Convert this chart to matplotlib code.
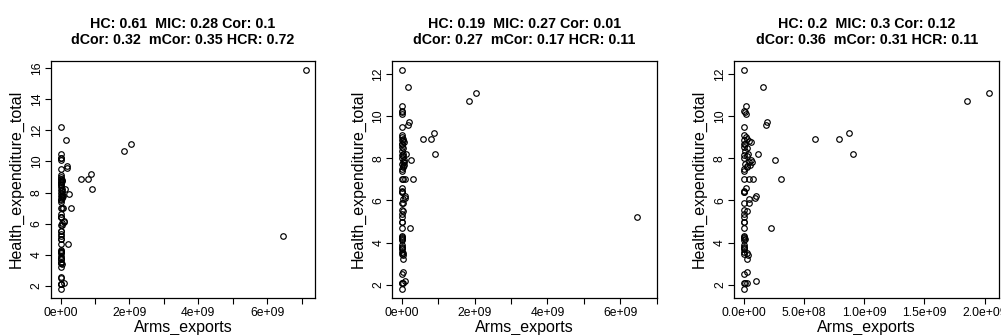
#!/usr/bin/env python3
"""
Health expenditure vs arms exports - three scatter panels
(full data, one outlier removed, two outliers removed)
"""

import numpy as np
import matplotlib
matplotlib.use('Agg')
import matplotlib.pyplot as plt

plt.rcParams['font.family'] = ['Liberation Sans', 'DejaVu Sans']

# Core points shared by all panels (arms exports in units of 1e8)
arms_core = [0.00, 1.61, 0.14, 0.00, 0.08, 0.14, 1.83, 1.94, 0.00, 0.00,
             0.14, 0.22, 0.44, 0.56, 0.11, 0.00, 0.22, 0.08, 0.00, 0.33,
             1.17, 0.28, 0.00, 2.56, 0.39, 0.56, 0.67, 0.50, 0.22, 0.00,
             0.00, 0.39, 0.78, 3.06, 0.17, 0.00, 0.05, 1.00, 0.89, 0.39,
             0.39, 0.00, 0.00, 0.22, 0.00, 0.03, 0.00, 0.05, 0.00, 2.22,
             0.00, 0.05, 0.11, 0.00, 0.00, 0.05, 0.00, 0.00, 0.22, 0.33,
             0.22, 0.22, 0.00, 0.11, 0.22, 0.97, 0.00, 5.94, 7.94, 8.75,
             9.10, 18.55, 20.40, 0.05, 0.00, 0.10, 0.30, 0.05, 0.00, 0.00,
             0.03, 0.00, 0.03]
health_core = [12.2, 11.4, 10.5, 10.25, 10.2, 10.1, 9.6, 9.7, 9.5, 9.1,
               9.0, 8.9, 8.8, 8.75, 8.7, 8.55, 8.5, 8.35, 8.15, 8.2,
               8.2, 8.1, 8.0, 7.9, 7.8, 7.9, 7.8, 7.7, 7.6, 7.5,
               7.0, 7.0, 7.0, 7.0, 6.6, 6.4, 6.4, 6.2, 6.1, 6.05,
               5.9, 5.9, 5.55, 5.5, 5.35, 5.2, 5.0, 5.0, 4.7, 4.7,
               4.3, 4.25, 4.15, 4.1, 3.9, 3.8, 3.7, 3.55, 3.5, 3.4,
               3.2, 2.6, 2.5, 2.1, 2.1, 2.2, 1.8, 8.9, 8.9, 9.2,
               8.2, 10.7, 11.1, 8.85, 8.7, 7.75, 7.65, 7.4, 6.45, 4.2,
               3.75, 3.45, 2.1]

# Outliers (arms exports in units of 1e8)
outlier_mid = (64.6, 5.2)
outlier_top = (71.1, 15.9)

titles = [
    "HC: 0.61  MIC: 0.28 Cor: 0.1\ndCor: 0.32  mCor: 0.35 HCR: 0.72",
    "HC: 0.19  MIC: 0.27 Cor: 0.01\ndCor: 0.27  mCor: 0.17 HCR: 0.11",
    "HC: 0.2  MIC: 0.3 Cor: 0.12\ndCor: 0.36  mCor: 0.31 HCR: 0.11",
]

xticks_big = [0, 1e9, 2e9, 3e9, 4e9, 5e9, 6e9, 7e9]
xticklabels_big = ['0e+00', '', '2e+09', '', '4e+09', '', '6e+09', '']
xticks_small = [0, 5e8, 1e9, 1.5e9, 2e9]
xticklabels_small = ['0.0e+00', '5.0e+08', '1.0e+09', '1.5e+09', '2.0e+09']
yticks_16 = [2, 4, 6, 8, 10, 12, 14, 16]
yticks_12 = [2, 4, 6, 8, 10, 12]


def r_range(vals):
    """R style axis range: data range padded by 4% each side"""
    lo, hi = min(vals), max(vals)
    pad = 0.04 * (hi - lo)
    return lo - pad, hi + pad


def draw_panel(fig, rect, x, y, title, xticks, xticklabels, yticks):
    ax = fig.add_axes(rect)
    ax.plot(x, y, 'o', markersize=4, markerfacecolor='none',
            markeredgecolor='black', markeredgewidth=0.85, linestyle='none')
    ax.set_xlim(*r_range(x))
    ax.set_ylim(*r_range(y))

    ax.set_xticks(xticks)
    ax.set_xticklabels(xticklabels)
    ax.set_yticks(yticks)
    ax.set_yticklabels([str(v) for v in yticks], rotation=90, va='center')

    # R-like outward ticks
    ax.tick_params(direction='out', length=4.3, width=0.8, labelsize=8.7,
                   colors='black')
    ax.tick_params(axis='x', pad=2.5)
    ax.tick_params(axis='y', pad=1.5)
    for sp in ax.spines.values():
        sp.set_linewidth(0.9)

    ax.set_xlabel('Arms_exports', fontsize=11.5, labelpad=0.5)
    ax.set_ylabel('Health_expenditure_total', fontsize=11.5, labelpad=5)
    ax.set_title(title, fontsize=10.3, fontweight='bold', pad=12,
                 linespacing=1.2)
    return ax


def main():
    fig = plt.figure(figsize=(10.01, 3.35), dpi=100)

    x3 = [v * 1e8 for v in arms_core]
    y3 = list(health_core)
    x2 = x3 + [outlier_mid[0] * 1e8]
    y2 = y3 + [outlier_mid[1]]
    x1 = x2 + [outlier_top[0] * 1e8]
    y1 = y2 + [outlier_top[1]]

    bottom = 0.1113
    height = 0.7066
    draw_panel(fig, [0.0507, bottom, 0.2643, height], x1, y1, titles[0],
               xticks_big, xticklabels_big, yticks_16)
    draw_panel(fig, [0.3919, bottom, 0.2641, height], x2, y2, titles[1],
               xticks_big, xticklabels_big, yticks_12)
    draw_panel(fig, [0.7333, bottom, 0.2650, height], x3, y3, titles[2],
               xticks_small, xticklabels_small, yticks_12)

    fig.savefig('out.png', dpi=100)


if __name__ == "__main__":
    main()
